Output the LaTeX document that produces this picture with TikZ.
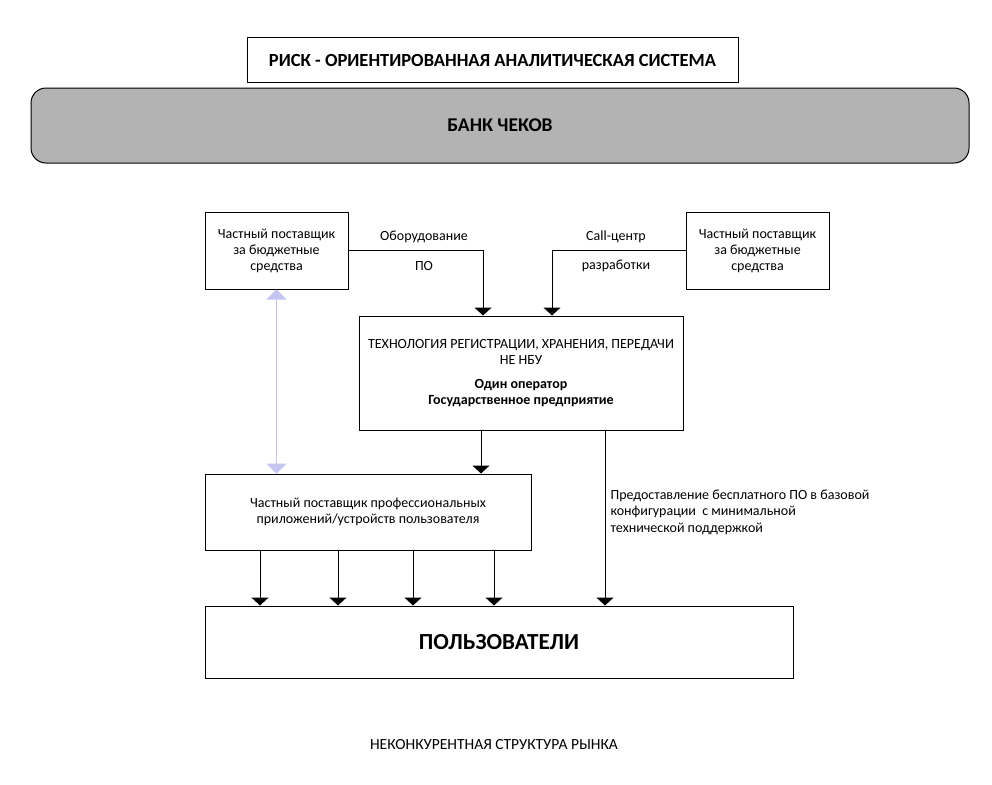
\documentclass[tikz,border=0pt]{standalone}
\usepackage{fontspec}
\setmainfont{Carlito}
\usetikzlibrary{arrows.meta,positioning}
\definecolor{bankgray}{HTML}{B3B3B3}
\definecolor{linkblue}{HTML}{C4C4F0}
\tikzset{
  box/.style={draw,line width=1pt,align=center,inner sep=0pt},
  arr/.style={line width=1pt,-{Triangle[width=17pt,length=8pt]}},
  twoway/.style={line width=1pt,draw=linkblue,{Triangle[width=20pt,length=10pt]}-{Triangle[width=20pt,length=10pt]}},
}
\begin{document}
\begin{tikzpicture}[x=1pt,y=-1pt,font=\fontsize{14}{16}\selectfont]
            \useasboundingbox (0,0) rectangle (992,784);
            % top
            \node[box,minimum width=491,minimum height=44,font=\bfseries\fontsize{18.5}{20}\selectfont] (title) at (492.5,60) {РИСК - ОРИЕНТИРОВАННАЯ АНАЛИТИЧЕСКАЯ СИСТЕМА};
            \node[box,rounded corners=15,fill=bankgray,minimum width=938,minimum height=75,font=\bfseries\fontsize{19.5}{22}\selectfont] (bank) at (500,125.5) {БАНК ЧЕКОВ};
            % suppliers
            \node[box,minimum width=143,minimum height=77] (lsup) at (276.5,250.5) {Частный поставщик\\за бюджетные\\средства};
            \node[box,minimum width=143,minimum height=77] (rsup) at (757.5,250.5) {Частный поставщик\\за бюджетные\\средства};
            \node (equip) at (424,237) {Оборудование};
            \node (po) at (424,266) {ПО};
            \node (call) at (616,237) {Call-центр};
            \node (dev) at (616,266) {разработки};
            % operator
            \node[box,minimum width=324,minimum height=114] (tech) at (521,373) {ТЕХНОЛОГИЯ РЕГИСТРАЦИИ, ХРАНЕНИЯ, ПЕРЕДАЧИ\\НЕ НБУ\\[8pt]\textbf{Один оператор}\\\textbf{Государственное предприятие}};
            \node[box,minimum width=326,minimum height=76] (apps) at (368,512) {Частный поставщик профессиональных\\приложений/устройств пользователя};
            \node[align=left,anchor=west,font=\fontsize{14}{16.5}\selectfont] (free) at (607,512) {Предоставление бесплатного ПО в базовой\\конфигурации\ \ с минимальной\\технической поддержкой};
            \node[box,minimum width=588,minimum height=72,font=\bfseries\fontsize{23}{26}\selectfont] (users) at (499,642) {ПОЛЬЗОВАТЕЛИ};
            \node[font=\fontsize{15.5}{18}\selectfont] (note) at (494,745) {НЕКОНКУРЕНТНАЯ СТРУКТУРА РЫНКА};
            % links
            \draw[arr] (lsup.east) -| ([xshift=-38]tech.north);
            \draw[arr] (rsup.west) -| ([xshift=31]tech.north);
            \draw[arr] ([xshift=-40]tech.south) -- ([xshift=-40]tech.south |- apps.north);
            \draw[arr] ([xshift=84]tech.south) -- ([xshift=84]tech.south |- users.north);
            \draw[twoway] (lsup.south) -- (lsup.south |- apps.north);
            \foreach \x in {260,338,413,494} \draw[arr] (apps.south -| \x,0) -- (users.north -| \x,0);
\end{tikzpicture}
\end{document}
